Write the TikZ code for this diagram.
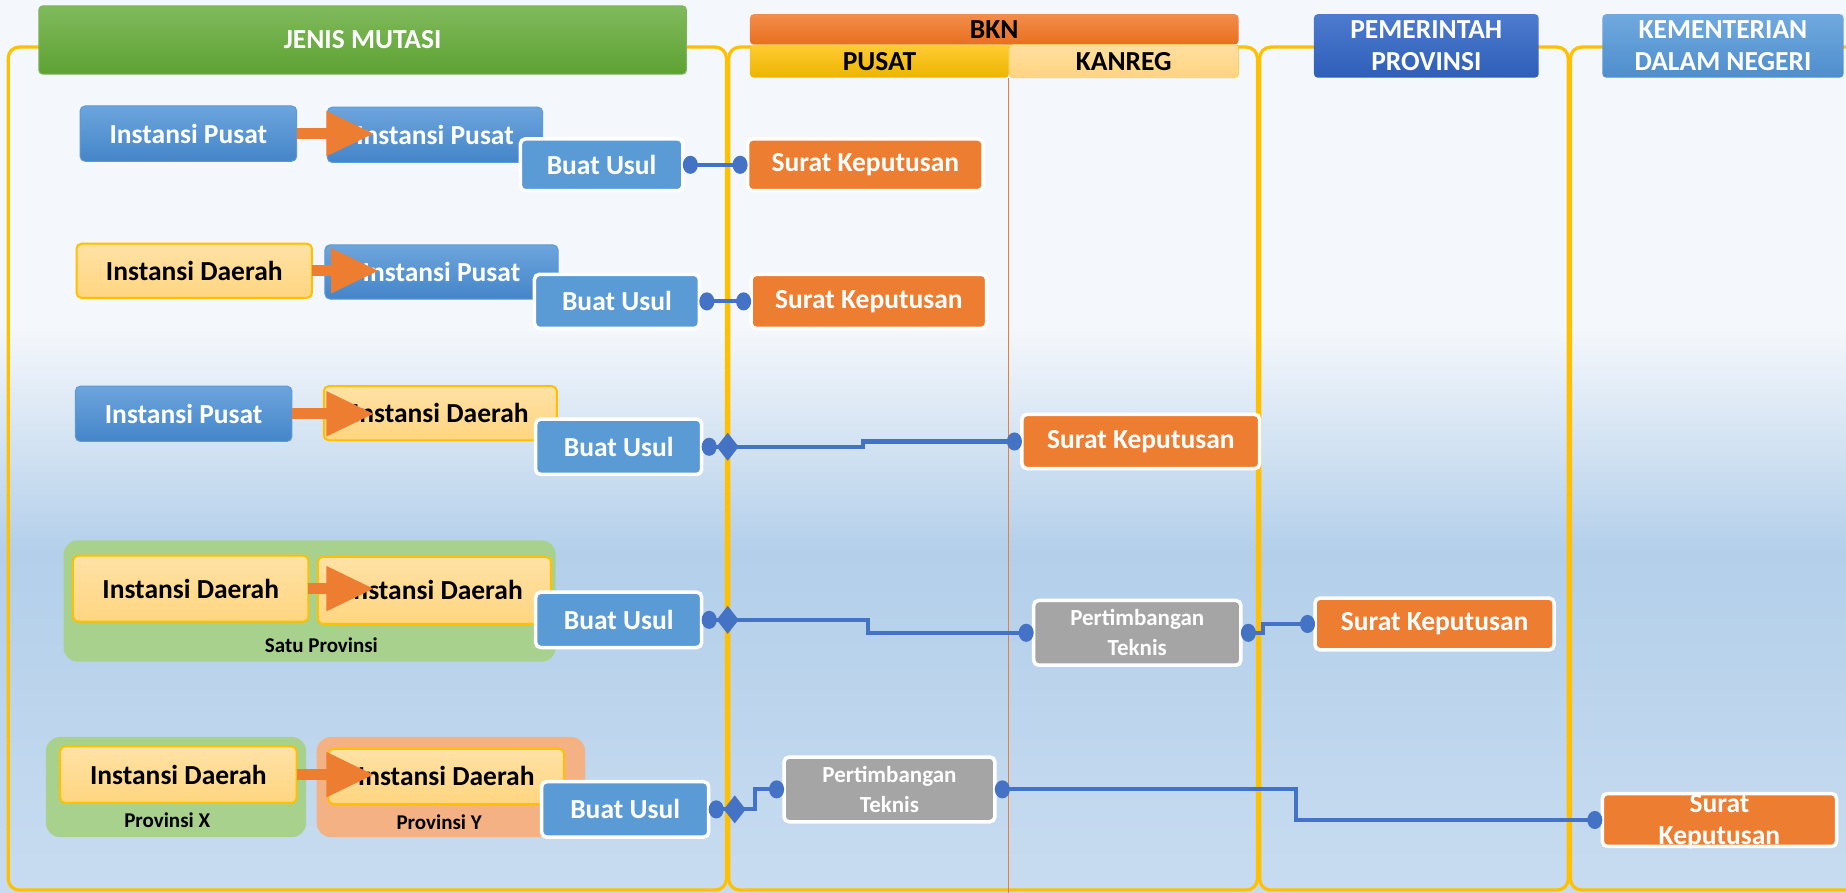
\documentclass[tikz,border=0pt]{standalone}
\usepackage{fontspec}
\setmainfont{Carlito}
\usetikzlibrary{arrows.meta,calc}
\definecolor{bgA}{HTML}{F4F7FB}
\definecolor{bgB}{HTML}{B3CFEA}
\definecolor{bgC}{HTML}{C8DCF0}
\definecolor{gold}{HTML}{FFC000}
\definecolor{bA}{HTML}{6DA5DD}
\definecolor{bB}{HTML}{4485C8}
\definecolor{bE}{HTML}{5B9BD5}
\definecolor{yA}{HTML}{FFE2A6}
\definecolor{yB}{HTML}{FFD580}
\definecolor{accBlue}{HTML}{5B9BD5}
\definecolor{accOrange}{HTML}{ED7D31}
\definecolor{accGray}{HTML}{A5A5A5}
\definecolor{connBlue}{HTML}{4472C4}
\definecolor{grpGreen}{HTML}{A9D18E}
\definecolor{grpOrange}{HTML}{F4B183}
\definecolor{gnA}{HTML}{80BA5C}
\definecolor{gnB}{HTML}{5EA233}
\definecolor{orA}{HTML}{F28D4C}
\definecolor{orB}{HTML}{E86F1C}
\definecolor{puA}{HTML}{FFCC33}
\definecolor{puB}{HTML}{EDB400}
\definecolor{kaA}{HTML}{FFDFA0}
\definecolor{kaB}{HTML}{FFD480}
\definecolor{ppA}{HTML}{4D7BCF}
\definecolor{ppB}{HTML}{2E5EB8}
\definecolor{kmA}{HTML}{70A9DE}
\definecolor{kmB}{HTML}{4E8ECD}
\begin{document}
\begin{tikzpicture}[x=1.1773pt,y=-1.1773pt,
  cb/.style args={#1/#2/#3/#4}{at={({(#1+#3)/2},{(#2+#4)/2})}, minimum width={(#3-#1)*1.1773pt}, minimum height={(#4-#2)*1.1773pt}},
  box/.style={rectangle, rounded corners=5pt, inner sep=0pt, outer sep=0pt, font=\bfseries\fontsize{27.5}{32}\selectfont, align=center},
  hdr/.style={box, rounded corners=4pt},
  bluebox/.style={box, top color=bA, bottom color=bB, draw=bE, line width=1pt, text=white},
  yelbox/.style={box, top color=yA, bottom color=yB, draw=gold, line width=2pt, text=black},
  actbox/.style={box, draw=white, line width=3.5pt, text=white},
  usul/.style={actbox, fill=accBlue},
  sk/.style={actbox, fill=accOrange},
  pt/.style={actbox, fill=accGray, font=\bfseries\fontsize{23}{30}\selectfont},
  grp/.style={rectangle, rounded corners=14pt, inner sep=0pt, outer sep=0pt},
  grplabel/.style={font=\bfseries\fontsize{21}{24}\selectfont, text=black},
  lane/.style={draw=gold, line width=3.2pt, rounded corners=11pt},
  mov/.style={draw=accOrange, line width=11pt, -{Triangle[length=48pt,width=42pt]}},
  conn/.style={draw=connBlue, line width=4.2pt, {Circle[length=15pt,width=18pt]}-{Circle[length=15pt,width=18pt]}},
  connd/.style={draw=connBlue, line width=4.2pt, {Circle[length=15pt,width=18pt] Diamond[length=22pt,width=28pt]}-{Circle[length=15pt,width=18pt]}}
]
\useasboundingbox (0,0) rectangle (1568,758);
\clip (0,0) rectangle (1568,758);
% background
\fill[bgA] (0,0) rectangle (1568,281);
\shade[top color=bgA, bottom color=bgB] (0,280) rectangle (1568,470);
\shade[top color=bgB, bottom color=bgC] (0,469) rectangle (1568,758);
% lanes
\draw[lane] (7,40) rectangle (617,756);
\draw[lane] (619,40) rectangle (1068,756);
\draw[lane] (1070,40) rectangle (1332,756);
\draw[lane] (1334,40) rectangle (1640,756);
% headers
\node[hdr, top color=gnA, bottom color=gnB, draw=gnB!80, line width=1pt, text=white, cb=33/5/583/63] (jm) {JENIS MUTASI};
\node[hdr, top color=orA, bottom color=orB, text=black, cb=637/12/1052/38] (bkn) {BKN};
\node[hdr, top color=puA, bottom color=puB, text=black, cb=637/38/857/66] (pusat) {PUSAT};
\node[hdr, top color=kaA, bottom color=kaB, draw=gold!70, line width=0.8pt, text=black, cb=857/38/1052/66] (kanreg) {KANREG};
\node[hdr, top color=ppA, bottom color=ppB, text=white, cb=1116/12/1307/66] (pemprov) {PEMERINTAH\\PROVINSI};
\node[hdr, top color=kmA, bottom color=kmB, text=white, cb=1361/12/1566/66] (kemen) {KEMENTERIAN\\DALAM NEGERI};
\draw[accOrange, line width=1pt] (pusat.south east) -- ++(0,700);
% row 1
\node[bluebox, cb=68/90/252/137] (ip1a) {Instansi Pusat};
\node[bluebox, cb=278/91/461/138] (ip1b) {Instansi Pusat};
\draw[mov] (ip1a.east) -- ($(ip1a.east -| ip1b.west)+(40,0)$);
\node[usul, cb=442/118/580/162] (bu1) {Buat Usul};
\node[sk, cb=635/118/835/162] (sk1) {Surat Keputusan};
\draw[conn] (bu1.east) -- (sk1.west);
% row 2
\node[yelbox, cb=65/207/265/253] (id2a) {Instansi Daerah};
\node[bluebox, cb=276/208/474/254] (ip2b) {Instansi Pusat};
\draw[mov] (id2a.east) -- ($(id2a.east -| ip2b.west)+(46,0)$);
\node[usul, cb=454/233/594/279] (bu2) {Buat Usul};
\node[sk, cb=638/233/838/279] (sk2) {Surat Keputusan};
\draw[conn] (bu2.east) -- (sk2.west);
% row 3
\node[bluebox, cb=64/328/248/375] (ip3a) {Instansi Pusat};
\node[yelbox, cb=275/328/473/374] (id3b) {Instansi Daerah};
\draw[mov] (ip3a.east) -- ($(ip3a.east -| id3b.west)+(43,0)$);
\node[usul, cb=455/356/596/403] (bu3) {Buat Usul};
\node[sk, cb=868/352/1070/398] (sk3) {Surat Keputusan};
\draw[connd] (bu3.east) -- ++(137,0) |- (sk3.west);
% row 4
\node[grp, fill=grpGreen, cb=54/459/472/562] (g4) {};
\node[grplabel] (lbl4) at (273,548) {Satu Provinsi};
\node[yelbox, cb=62/472/262/528] (id4a) {Instansi Daerah};
\node[yelbox, cb=270/473/468/530] (id4b) {Instansi Daerah};
\draw[mov] (id4a.east) -- ($(id4a.east -| id4b.west)+(48,0)$);
\node[usul, cb=455/503/596/550] (bu4) {Buat Usul};
\node[pt, cb=878/510/1054/565] (pt4) {Pertimbangan\\Teknis};
\node[sk, cb=1117/508/1320/552] (sk4) {Surat Keputusan};
\draw[connd] (bu4.east) -- ++(141,0) |- (pt4.west);
\draw[conn] (pt4.east) -- ++(19,0) |- (sk4.west);
% row 5
\node[grp, fill=grpGreen, cb=39/626/260/711] (gx) {};
\node[grp, fill=grpOrange, cb=269/626/497/711] (gy) {};
\node[grplabel] (lblx) at (142,697) {Provinsi X};
\node[grplabel] (lbly) at (373,698) {Provinsi Y};
\node[yelbox, cb=51/634/252/682] (id5a) {Instansi Daerah};
\node[yelbox, cb=279/636/479/683] (id5b) {Instansi Daerah};
\draw[mov] (id5a.east) -- ($(id5a.east -| id5b.west)+(39,0)$);
\node[usul, cb=460/664/602/711] (bu5) {Buat Usul};
\node[pt, cb=666/643/845/698] (pt5) {Pertimbangan\\Teknis};
\node[sk, cb=1361/674/1560/719, label={[font=\bfseries\fontsize{27.5}{32}\selectfont, text=white, align=center, yshift=-2pt]center:Surat\\Keputusan}] (sk5) {};
\draw[connd] (bu5.east) -- ++(39,0) |- (pt5.west);
\draw[conn] (pt5.east) -- ++(256,0) |- (sk5.west);
\end{tikzpicture}
\end{document}
